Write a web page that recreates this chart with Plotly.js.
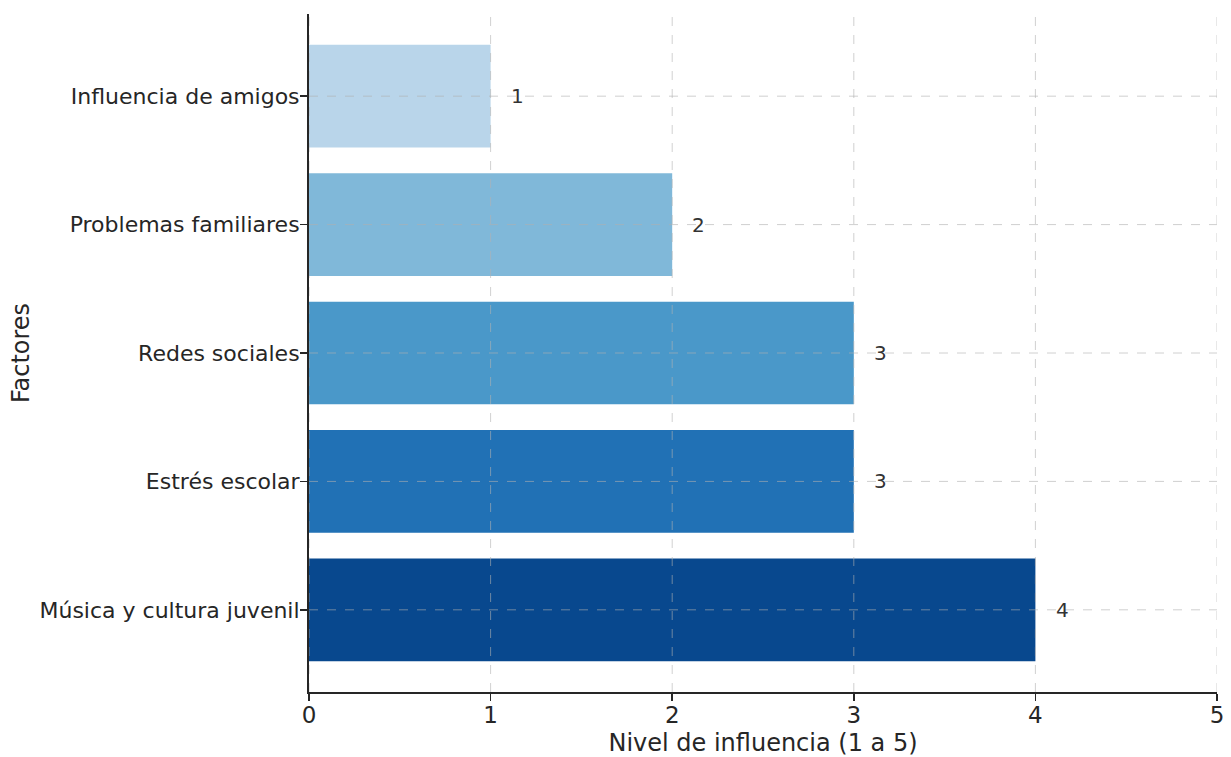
<!DOCTYPE html>
<html>
<head>
<meta charset="utf-8">
<script src="https://cdn.plot.ly/plotly-3.0.1.min.js"></script>
<style>
  html, body { margin: 0; padding: 0; background: #ffffff; }
  #chart { width: 1231px; height: 757px; }
</style>
</head>
<body>
<div id="chart"></div>
<script>
// Factors, listed bottom to top
const factores = [
  "Música y cultura juvenil",
  "Estrés escolar",
  "Redes sociales",
  "Problemas familiares",
  "Influencia de amigos"
];
const nivel = [4, 3, 3, 2, 1];
const colores = ["#08488e", "#2171b5", "#4a98c9", "#80b8d9", "#b9d5ea"];
const xTicks = [0, 1, 2, 3, 4, 5];

const FONT = "DejaVu Sans, sans-serif";
const TEXT = "#262626";

const bars = {
  type: "bar",
  orientation: "h",
  y: factores,
  x: nivel,
  width: 0.8,
  marker: { color: colores, line: { width: 0 } },
  hoverinfo: "skip"
};

// Dashed grid drawn on top of the bars
const gridStyle = { color: "rgba(176,176,176,0.6)", width: 1, dash: "dash" };
const shapes = [];
xTicks.forEach(v => shapes.push({
  type: "line", layer: "above", xref: "x", yref: "paper",
  x0: v, x1: v, y0: 0, y1: 1, line: gridStyle
}));
factores.forEach((f, i) => shapes.push({
  type: "line", layer: "above", xref: "paper", yref: "y",
  x0: 0, x1: 1, y0: i, y1: i, line: gridStyle
}));

// Value labels just past each bar end
const annotations = nivel.map((v, i) => ({
  x: v + 0.1, y: factores[i], xref: "x", yref: "y",
  text: String(v), showarrow: false, xanchor: "left", yanchor: "middle",
  font: { family: FONT, size: 20, color: "#333333" }
}));

const layout = {
  width: 1231, height: 757,
  margin: { l: 309, r: 14, t: 14, b: 65 },
  paper_bgcolor: "#ffffff",
  plot_bgcolor: "#ffffff",
  showlegend: false,
  font: { family: FONT, color: TEXT },
  xaxis: {
    range: [0, 5],
    tickvals: xTicks,
    ticktext: xTicks.map(String),
    showgrid: false, zeroline: false,
    showline: true, linecolor: TEXT, linewidth: 2,
    ticks: "outside", ticklen: 7, tickwidth: 1.5, tickcolor: TEXT,
    tickfont: { family: FONT, size: 23, color: TEXT },
    ticklabelstandoff: -6,
    title: { text: "Nivel de influencia (1 a 5)", font: { family: FONT, size: 24, color: TEXT }, standoff: 16 },
    layer: "above traces"
  },
  yaxis: {
    type: "category",
    categoryorder: "array",
    categoryarray: factores,
    range: [-0.64, 4.64],
    showgrid: false, zeroline: false,
    showline: true, linecolor: TEXT, linewidth: 2,
    ticks: "outside", ticklen: 7, tickwidth: 1.5, tickcolor: TEXT,
    tickfont: { family: FONT, size: 22, color: TEXT },
    ticklabelstandoff: -4,
    title: { text: "Factores", font: { family: FONT, size: 24, color: TEXT }, standoff: 3 },
    layer: "above traces"
  },
  shapes: shapes,
  annotations: annotations,
  bargap: 0.2
};

Plotly.newPlot("chart", [bars], layout, { displayModeBar: false, staticPlot: true });
</script>
</body>
</html>
